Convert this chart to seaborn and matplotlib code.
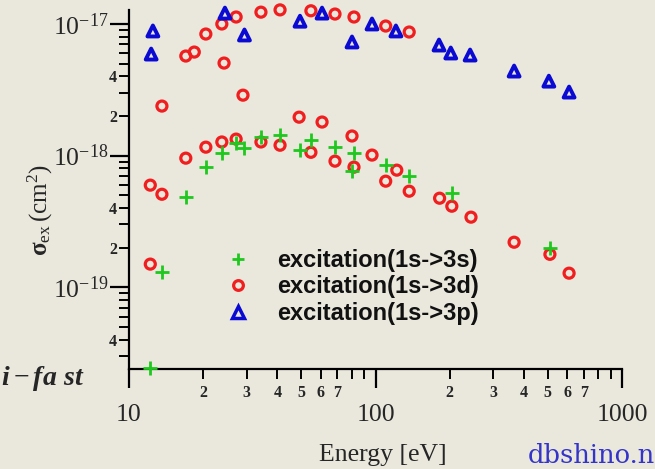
import numpy as np
import pandas as pd
import matplotlib
matplotlib.use("Agg")
import matplotlib.pyplot as plt
from matplotlib.ticker import FixedLocator, FuncFormatter
from matplotlib.lines import Line2D
import seaborn as sns

# ---- data: excitation cross sections vs. electron energy ----
energy_3s = [12.2, 13.6, 17.0, 20.5, 23.8, 27.2, 29.4, 34.2, 40.8, 49.4, 54.7,
             68.3, 80.3, 81.8, 110, 137, 204, 510]
sigma_3s = [2.44e-20, 1.30e-19, 4.84e-19, 8.2e-19, 1.05e-18, 1.25e-18, 1.14e-18,
            1.38e-18, 1.43e-18, 1.10e-18, 1.31e-18, 1.16e-18, 7.6e-19, 1.05e-18,
            8.5e-19, 7.0e-19, 5.2e-19, 1.98e-19]

energy_3d = [12.2, 12.2, 13.6, 13.6, 17.0, 17.0, 18.4, 20.5, 20.5, 23.8, 23.8,
             24.3, 27.2, 27.2, 29.0, 34.3, 34.3, 41.0, 41.0, 49.0, 54.7, 54.7,
             60.7, 68.5, 68.5, 80.3, 81.8, 81.8, 96.8, 110, 110, 122, 137, 137,
             182, 204, 244, 365, 510, 610]
sigma_3d = [5.97e-19, 1.50e-19, 2.38e-18, 5.09e-19, 5.71e-18, 9.57e-19, 6.12e-18,
            8.39e-18, 1.16e-18, 1.0e-17, 1.27e-18, 5.05e-18, 1.13e-17, 1.335e-18,
            2.88e-18, 1.23e-17, 1.27e-18, 1.28e-17, 1.20e-18, 1.96e-18, 1.26e-17,
            1.06e-18, 1.80e-18, 1.19e-17, 9.08e-19, 1.41e-18, 1.13e-17, 8.18e-19,
            1.01e-18, 9.65e-18, 6.40e-19, 7.76e-19, 8.69e-18, 5.37e-19, 4.75e-19,
            4.13e-19, 3.41e-19, 2.20e-19, 1.78e-19, 1.28e-19]

energy_3p = [12.5, 12.3, 24.5, 29.4, 49.4, 60.7, 80.3, 96.8, 121, 181, 202, 242,
             365, 505, 610]
sigma_3p = [8.85e-18, 5.91e-18, 1.21e-17, 8.25e-18, 1.05e-17, 1.21e-17, 7.3e-18,
            1.0e-17, 8.85e-18, 6.92e-18, 6.02e-18, 5.81e-18, 4.39e-18, 3.68e-18,
            3.04e-18]

labels = ["excitation(1s->3s)", "excitation(1s->3d)", "excitation(1s->3p)"]
x_minor_labelled = [2, 3, 4, 5, 6, 7]
y_minor_labelled = [2, 4]

# ---- style ----
sns.set_style("ticks")
plt.rcParams["font.family"] = ["Liberation Serif", "DejaVu Sans"]
plt.rcParams["mathtext.fontset"] = "custom"
plt.rcParams["mathtext.rm"] = "Liberation Serif"
plt.rcParams["mathtext.it"] = "Liberation Serif:italic:bold"
plt.rcParams["mathtext.bf"] = "Liberation Serif:bold"

bg = "#EAE8DD"
RED, GREEN, BLUE = "#F01E1E", "#1EC81E", "#0A0AD2"

W, H = 655, 469
fig = plt.figure(figsize=(W / 100, H / 100), dpi=100)
fig.patch.set_facecolor(bg)
ax = fig.add_axes([129 / W, 1 - 369 / H, (622 - 129) / W, (369 - 10) / H])
ax.set_facecolor("none")

df_3s = pd.DataFrame({"E": energy_3s, "sigma": sigma_3s})
df_3d = pd.DataFrame({"E": energy_3d, "sigma": sigma_3d})
df_3p = pd.DataFrame({"E": energy_3p, "sigma": sigma_3p})

ax.set_xscale("log")
ax.set_yscale("log")

sns.scatterplot(data=df_3d, x="E", y="sigma", ax=ax, marker="o", s=52,
                facecolor="none", edgecolor=RED, linewidth=2.3,
                clip_on=False, zorder=3, legend=False)
sns.scatterplot(data=df_3p, x="E", y="sigma", ax=ax, marker="^", s=62,
                facecolor="none", edgecolor=BLUE, linewidth=2.8,
                clip_on=False, zorder=3, legend=False)
sns.scatterplot(data=df_3s, x="E", y="sigma", ax=ax, marker="+", s=100,
                color=GREEN, linewidth=2.0,
                clip_on=False, zorder=4, legend=False)

xlim = (10, 1000)
ylim = (10 ** -19.6206, 10 ** -16.8937)
ax.set_xlim(*xlim)
ax.set_ylim(*ylim)

# ---- spines & ticks ----
sns.despine(ax=ax)
for side in ("left", "bottom"):
    ax.spines[side].set_linewidth(1.6)
    ax.spines[side].set_color("black")


def _decade_ticks(lo, hi, subs):
    vals = []
    for e in range(-21, 5):
        for m in subs:
            v = m * 10.0 ** e
            if lo * (1 - 1e-9) <= v <= hi * (1 + 1e-9):
                vals.append(v)
    return vals


def _mantissa(v):
    exp = np.floor(np.log10(v) + 1e-9)
    return int(round(v / 10 ** exp))


ax.xaxis.set_major_locator(FixedLocator(_decade_ticks(*xlim, [1])))
ax.xaxis.set_minor_locator(FixedLocator(_decade_ticks(*xlim, range(2, 10))))
ax.yaxis.set_major_locator(FixedLocator(_decade_ticks(*ylim, [1])))
ax.yaxis.set_minor_locator(FixedLocator(_decade_ticks(*ylim, range(2, 10))))

ax.xaxis.set_major_formatter(FuncFormatter(lambda v, p: f"{int(round(v))}"))
ax.xaxis.set_minor_formatter(FuncFormatter(
    lambda v, p: str(_mantissa(v)) if _mantissa(v) in x_minor_labelled else ""))
ax.yaxis.set_major_formatter(FuncFormatter(
    lambda v, p: r"$10^{%d}$" % int(round(np.log10(v)))))
ax.yaxis.set_minor_formatter(FuncFormatter(
    lambda v, p: str(_mantissa(v)) if _mantissa(v) in y_minor_labelled else ""))

ax.tick_params(which="major", direction="out", length=13.5, width=1.6, color="black")
ax.tick_params(which="minor", direction="out", length=7.5, width=1.4, color="black")
ax.tick_params(axis="x", which="major", pad=11.5, labelsize=18.5)
ax.tick_params(axis="x", which="minor", pad=4, labelsize=11.5)
ax.tick_params(axis="y", which="major", pad=1, labelsize=18.5)
ax.tick_params(axis="y", which="minor", pad=1, labelsize=11.5)
for t in ax.xaxis.get_minorticklabels() + ax.yaxis.get_minorticklabels():
    t.set_fontweight("bold")

# ---- axis titles ----
ax.set_xlabel("Energy [eV]", fontsize=18.5)
ax.xaxis.set_label_coords((383 - 129) / 493, (369 - 444) / 359)
ax.set_ylabel(r"$\mathbf{\sigma}_{\mathrm{ex}}\,(\mathrm{cm}^{2})$", fontsize=18)
ax.yaxis.set_label_coords((55 - 129) / 493, (369 - 210) / 359)

# ---- legend ----
handles = [
    Line2D([], [], ls="none", marker="+", ms=9, mew=2.0, color=GREEN),
    Line2D([], [], ls="none", marker="o", ms=7, mew=2.3, mfc="none", mec=RED),
    Line2D([], [], ls="none", marker="^", ms=8, mew=2.5, mfc="none", mec=BLUE),
]
leg = ax.legend(handles, labels, loc="center left",
                bbox_to_anchor=(226 / W, 1 - 287 / H), bbox_transform=fig.transFigure,
                frameon=False, borderpad=0, borderaxespad=0, handlelength=1.0,
                handletextpad=1.15, labelspacing=0.15,
                prop={"family": "Liberation Sans", "weight": "bold", "size": 17})
for t in leg.get_texts():
    t.set_color("#111111")

# ---- side annotations ----
fig.text(1 / W, 1 - 378 / H, r"$i-fa\ st$", fontsize=20, ha="left", va="center")
fig.text(528 / W, 1 - 455 / H, "dbshino.n", fontsize=18.5, color="#3434C8",
         family="DejaVu Serif", ha="left", va="center")

fig.savefig("out.png", dpi=100, facecolor=bg)
